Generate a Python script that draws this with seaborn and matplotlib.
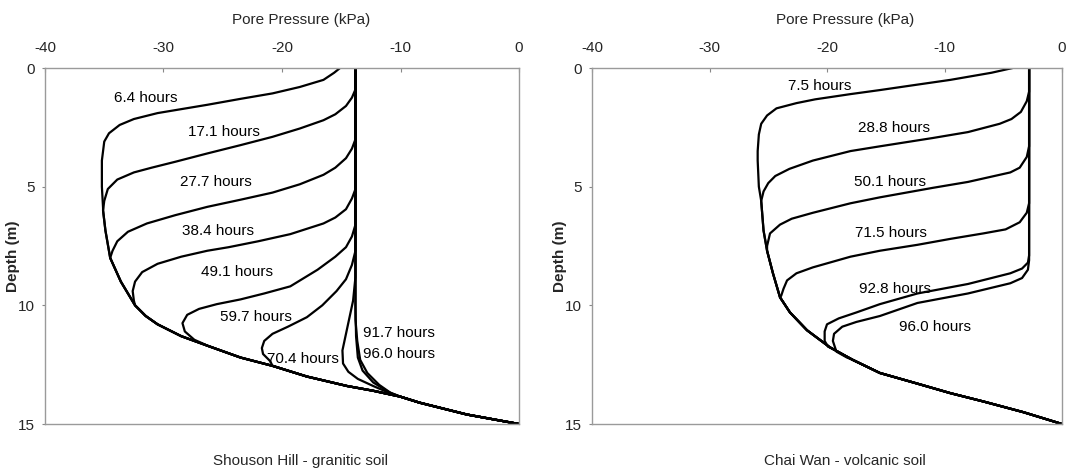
import matplotlib
matplotlib.use("Agg")
import matplotlib.pyplot as plt
import seaborn as sns
import pandas as pd

# ---------------- data (pore pressure kPa, depth m) ----------------
HOURS_SH = ["6.4", "17.1", "27.7", "38.4", "49.1", "59.7", "70.4", "91.7", "96.0"]
SH_6_4 = [(-15.1, 0.0), (-15.6, 0.2), (-16.5, 0.5), (-18.5, 0.8), (-20.8, 1.07), (-23.5, 1.3),
          (-26.3, 1.55), (-30.5, 1.9), (-32.5, 2.15), (-33.7, 2.4), (-34.6, 2.75), (-35.0, 3.1),
          (-35.2, 3.9), (-35.2, 5.0), (-35.1, 5.9)]
SH_17_1 = [(-13.8, 0.0), (-13.8, 0.9), (-14.1, 1.25), (-14.6, 1.6), (-15.5, 1.95), (-16.5, 2.2),
           (-18.5, 2.55), (-20.8, 2.9), (-23.5, 3.25), (-26.3, 3.6), (-29.0, 3.95), (-31.0, 4.2),
           (-32.5, 4.4), (-33.9, 4.7), (-34.7, 5.1), (-35.0, 5.6)]
SH_27_7 = [(-13.8, 0.0), (-13.8, 3.0), (-14.1, 3.4), (-14.6, 3.8), (-15.5, 4.2), (-16.5, 4.5),
           (-18.5, 4.9), (-20.8, 5.25), (-23.5, 5.55), (-26.3, 5.85), (-29.0, 6.2), (-31.4, 6.55),
           (-33.0, 6.9), (-33.9, 7.3), (-34.3, 7.7), (-34.5, 8.0)]
SH_38_4 = [(-13.8, 0.0), (-13.8, 5.1), (-14.1, 5.5), (-14.6, 5.95), (-15.5, 6.3), (-16.5, 6.55),
           (-19.3, 7.0), (-22.0, 7.3), (-24.5, 7.55), (-26.3, 7.7), (-28.5, 7.95), (-30.5, 8.25),
           (-31.8, 8.6), (-32.4, 9.0), (-32.6, 9.4), (-32.5, 9.8)]
SH_49_1 = [(-13.8, 0.0), (-13.8, 6.6), (-14.1, 7.1), (-14.6, 7.55), (-15.5, 7.95), (-17.0, 8.5),
           (-19.3, 9.2), (-21.5, 9.5), (-23.5, 9.75), (-25.5, 9.95), (-27.0, 10.15), (-28.0, 10.4),
           (-28.4, 10.75), (-28.2, 11.1), (-27.4, 11.45), (-26.5, 11.65)]
SH_59_7 = [(-13.8, 0.0), (-13.8, 7.7), (-14.1, 8.3), (-14.6, 8.9), (-15.4, 9.4), (-16.6, 10.0),
           (-17.9, 10.5), (-19.5, 10.9), (-20.8, 11.2), (-21.5, 11.5), (-21.7, 11.8), (-21.6, 12.05),
           (-21.0, 12.35)]
SH_70_4 = [(-13.8, 0.0), (-13.8, 8.8), (-14.0, 9.8), (-14.3, 10.5), (-14.6, 11.2), (-14.9, 11.9),
           (-14.85, 12.45), (-14.4, 12.8), (-13.6, 13.1), (-12.3, 13.4), (-10.9, 13.7)]
SH_91_7 = [(-13.8, 0.0), (-13.8, 10.0), (-13.75, 11.3), (-13.6, 12.2), (-13.2, 12.75), (-12.3, 13.25),
           (-11.0, 13.65)]
SH_96_0 = [(-13.8, 0.0), (-13.8, 10.6), (-13.65, 11.5), (-13.4, 12.3), (-12.8, 12.85), (-11.8, 13.35),
           (-10.8, 13.7)]
SH_ENVELOPE = [(-35.1, 6.0), (-34.9, 6.85), (-34.5, 8.0), (-33.6, 9.0), (-32.4, 10.0), (-31.5, 10.45),
               (-30.5, 10.8), (-28.5, 11.3), (-26.3, 11.7), (-23.5, 12.2), (-20.8, 12.55), (-17.9, 13.0),
               (-14.5, 13.4), (-12.3, 13.6), (-10.0, 13.85), (-8.4, 14.1), (-4.4, 14.6), (0.0, 15.0)]
SH_LABEL_POS = [(-31.5, 1.27), (-24.9, 2.7), (-25.6, 4.8), (-25.4, 6.85), (-23.8, 8.6),
                (-22.2, 10.5), (-18.2, 12.25), (-10.1, 11.15), (-10.1, 12.04)]

HOURS_CW = ["7.5", "28.8", "50.1", "71.5", "92.8", "96.0"]
CW_7_5 = [(-4.2, 0.0), (-6.0, 0.2), (-9.5, 0.5), (-13.0, 0.75), (-15.5, 0.93), (-18.0, 1.1),
          (-21.0, 1.32), (-22.6, 1.48), (-24.3, 1.7), (-25.1, 2.0), (-25.6, 2.35), (-25.8, 2.8),
          (-25.9, 3.5)]
CW_28_8 = [(-2.8, 0.0), (-2.8, 1.0), (-3.0, 1.4), (-3.5, 1.85), (-4.3, 2.15), (-5.3, 2.35),
           (-8.0, 2.7), (-11.0, 2.95), (-15.5, 3.3), (-18.0, 3.5), (-21.2, 3.9), (-23.2, 4.25),
           (-24.4, 4.55), (-25.0, 4.85), (-25.4, 5.2)]
CW_50_1 = [(-2.8, 0.0), (-2.8, 3.3), (-3.0, 3.75), (-3.6, 4.2), (-4.4, 4.4), (-5.3, 4.5),
           (-8.0, 4.8), (-11.0, 5.05), (-15.5, 5.45), (-18.0, 5.7), (-21.2, 6.1), (-23.0, 6.35),
           (-24.0, 6.6), (-24.85, 6.97), (-25.1, 7.5)]
CW_71_5 = [(-2.8, 0.0), (-2.8, 5.7), (-3.0, 6.1), (-3.6, 6.5), (-4.8, 6.8), (-6.7, 6.97),
           (-9.5, 7.2), (-12.3, 7.45), (-15.5, 7.7), (-18.0, 7.95), (-21.2, 8.4), (-22.6, 8.65),
           (-23.4, 8.95), (-23.7, 9.3), (-23.9, 9.6)]
CW_92_8 = [(-2.8, 0.0), (-2.8, 7.9), (-2.9, 8.2), (-3.4, 8.45), (-4.4, 8.65), (-8.0, 9.1),
           (-12.3, 9.5), (-15.5, 9.95), (-17.5, 10.3), (-19.0, 10.55), (-20.0, 10.8), (-20.2, 11.1),
           (-20.2, 11.5), (-19.9, 11.75)]
CW_96_0 = [(-2.8, 0.0), (-2.8, 8.1), (-2.9, 8.5), (-3.4, 8.85), (-4.4, 9.07), (-8.0, 9.5),
           (-12.3, 9.9), (-15.5, 10.45), (-17.5, 10.7), (-18.7, 10.9), (-19.4, 11.2), (-19.5, 11.5),
           (-19.2, 11.95), (-18.3, 12.2)]
CW_ENVELOPE = [(-25.9, 3.9), (-25.8, 5.0), (-25.6, 5.6), (-25.4, 6.85), (-25.1, 7.7), (-24.6, 8.65),
               (-24.0, 9.66), (-23.15, 10.3), (-21.7, 11.05), (-19.75, 11.77), (-17.8, 12.3),
               (-15.5, 12.85), (-12.3, 13.3), (-9.5, 13.7), (-6.7, 14.05), (-3.3, 14.5), (0.0, 15.0)]
CW_LABEL_POS = [(-20.6, 0.75), (-14.3, 2.53), (-14.6, 4.8), (-14.6, 6.96), (-14.2, 9.33), (-10.8, 10.9)]

X_TICKS = [-40, -30, -20, -10, 0]
Y_TICKS = [0, 5, 10, 15]
X_LABEL = "Pore Pressure (kPa)"
Y_LABEL = "Depth (m)"
TITLES = ["Shouson Hill - granitic soil", "Chai Wan - volcanic soil"]

# ---------------- styling ----------------
sns.set_theme(style="white")
plt.rcParams["font.family"] = ["Liberation Sans", "DejaVu Sans"]
plt.rcParams["axes.unicode_minus"] = False
FS = 11


def build_frame(curves, hours, envelope):
    rows = []
    for h, pts in zip(hours, curves):
        full = list(pts) + [e for e in envelope if e[1] > pts[-1][1]]
        for i, (p, d) in enumerate(full):
            rows.append({"curve": h, "order": i, "p": p, "d": d})
    return pd.DataFrame(rows)


fig = plt.figure(figsize=(10.66, 4.72), dpi=100)
ax1 = fig.add_axes([45 / 1066, 48 / 472, 474 / 1066, 356 / 472])
ax2 = fig.add_axes([592 / 1066, 48 / 472, 470 / 1066, 356 / 472])

panels = [
    (ax1, build_frame([SH_6_4, SH_17_1, SH_27_7, SH_38_4, SH_49_1, SH_59_7, SH_70_4, SH_91_7, SH_96_0],
                      HOURS_SH, SH_ENVELOPE), HOURS_SH, SH_LABEL_POS, TITLES[0], 0.540),
    (ax2, build_frame([CW_7_5, CW_28_8, CW_50_1, CW_71_5, CW_92_8, CW_96_0],
                      HOURS_CW, CW_ENVELOPE), HOURS_CW, CW_LABEL_POS, TITLES[1], 0.538),
]

for ax, df, hours, lpos, title, tx in panels:
    sns.lineplot(data=df, x="p", y="d", hue="curve", units="curve", estimator=None, sort=False,
                 palette=["black"] * len(hours), legend=False, linewidth=1.6, ax=ax)
    ax.set_xlim(-40, 0)
    ax.set_ylim(15, 0)
    ax.set_xticks(X_TICKS)
    ax.set_yticks(Y_TICKS)
    ax.xaxis.tick_top()
    ax.xaxis.set_label_position("top")
    ax.set_xlabel(X_LABEL, fontsize=FS)
    ax.xaxis.set_label_coords(tx, 1.135)
    ax.xaxis.label.set_va("center")
    ax.set_ylabel(Y_LABEL, fontsize=FS, fontweight="bold")
    ax.yaxis.set_label_coords(-0.053, 0.47)
    ax.tick_params(axis="x", which="both", top=True, bottom=False, direction="in", length=3,
                   width=0.8, color="#888888", pad=9, labelsize=FS)
    ax.tick_params(axis="y", which="both", left=True, direction="out", length=2,
                   width=0.8, color="#888888", pad=5, labelsize=FS)
    for s in ax.spines.values():
        s.set_visible(True)
        s.set_color("#9a9a9a")
        s.set_linewidth(1.0)
    for h, (px, py) in zip(hours, lpos):
        ax.text(px, py, f"{h} hours", fontsize=FS, ha="center", va="center", color="black")
    ax.text(tx, -0.105, title, transform=ax.transAxes, fontsize=FS, ha="center", va="center")

fig.savefig("out.png", dpi=100)
